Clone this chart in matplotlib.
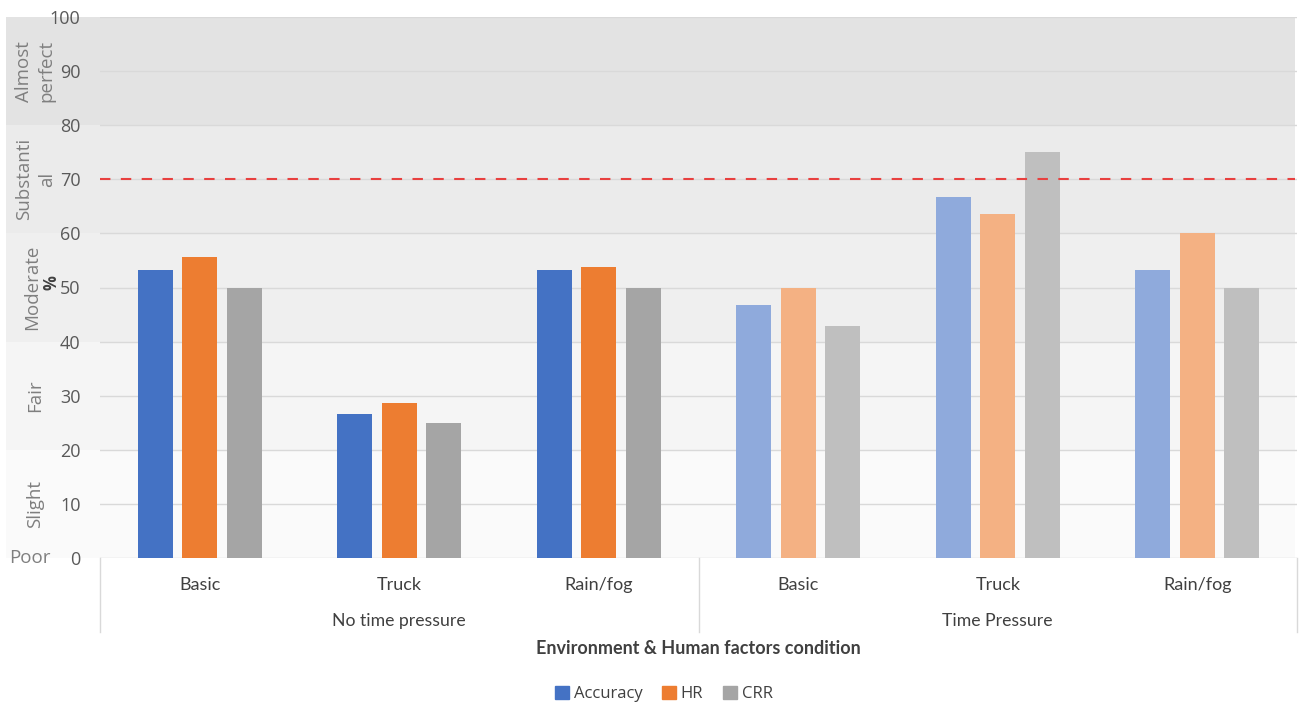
import matplotlib
matplotlib.use("Agg")
import matplotlib.pyplot as plt
import matplotlib.transforms as mtransforms
from matplotlib.patches import Rectangle
from matplotlib.lines import Line2D
import numpy as np

# Data
groups = ["No time pressure", "Time Pressure"]
conditions = ["Basic", "Truck", "Rain/fog"]
series_names = ["Accuracy", "HR", "CRR"]
accuracy = [53.3, 26.7, 53.3, 46.7, 66.7, 53.3]
hr = [55.6, 28.6, 53.8, 50.0, 63.6, 60.0]
crr = [50.0, 25.0, 50.0, 42.9, 75.0, 50.0]
threshold = 70

# Agreement bands: (low, high, label)
band_edges = [(0, 20), (20, 40), (40, 60), (60, 80), (80, 100)]
band_labels = ["Slight", "Fair", "Moderate", "Substanti\nal", "Almost\nperfect"]
band_colors = ["#fafafa", "#f5f5f5", "#efefef", "#ebebeb", "#e3e3e3"]
band_label_x = [-0.054, -0.054, -0.057, -0.054, -0.054]

dark_colors = ["#4472C4", "#ED7D31", "#A5A5A5"]
light_colors = ["#8FAADC", "#F4B183", "#BFBFBF"]

plt.rcParams["font.family"] = ["Open Sans", "DejaVu Sans"]

fig = plt.figure(figsize=(12.99, 7.04), dpi=100)
ax = fig.add_axes([100 / 1299, 1 - 558 / 704, 1197 / 1299, 541 / 704])

n = len(accuracy)
x = np.arange(n)
width = 0.175
offsets = [-0.223, 0.0, 0.223]
values = [accuracy, hr, crr]

# Background bands extending into the left margin
blend = mtransforms.blended_transform_factory(ax.transAxes, ax.transData)
for (lo, hi), col in zip(band_edges, band_colors):
    ax.add_patch(Rectangle((-0.0785, lo), 0.0785 + 0.9985, hi - lo, transform=blend,
                           facecolor=col, edgecolor="none", clip_on=False, zorder=0))

# Gridlines
for yv in range(10, 101, 10):
    ax.axhline(yv, color="#d9d9d9", lw=1.0, zorder=1)

# Bars: first three conditions dark, last three light
for s, (vals, off) in enumerate(zip(values, offsets)):
    cols = [dark_colors[s]] * 3 + [light_colors[s]] * 3
    ax.bar(x + off, vals, width=width, color=cols, zorder=3)

# Threshold line
ax.plot([-0.5, 5.49], [threshold, threshold], color="#e8403f", lw=1.5,
        dashes=(5, 5), zorder=4)

ax.set_xlim(-0.5, 5.5)
ax.set_ylim(0, 100)
ax.set_yticks(range(0, 101, 10))
ax.set_yticklabels([str(v) for v in range(0, 101, 10)], fontsize=13, color="#595959")
ax.tick_params(axis="y", length=0, pad=14)
ax.set_xticks([])
for sp in ax.spines.values():
    sp.set_visible(False)
ax.axhline(0, color="#d9d9d9", lw=1.0, zorder=2)
ax.patch.set_alpha(0)

# Multi-level category axis
xt = mtransforms.blended_transform_factory(ax.transData, ax.transAxes)
for xv in [-0.5, 2.5, 5.5]:
    ax.add_line(Line2D([xv, xv], [0, -0.137], transform=xt, color="#d9d9d9",
                       lw=1.0, clip_on=False))
for i in range(n):
    ax.text(x[i], -0.05, conditions[i % 3], transform=xt, ha="center", va="center",
            fontsize=13, color="#404040", family=["Lato", "DejaVu Sans"])
for g, name in enumerate(groups):
    ax.text(g * 3 + 1, -0.117, name, transform=xt, ha="center", va="center",
            fontsize=12.7, color="#404040", family=["Lato", "DejaVu Sans"])

fig.text(698.5 / 1299, 1 - 648 / 704, "Environment & Human factors condition",
         ha="center", va="center", fontsize=13, fontweight="bold", color="#404040",
         family=["Lato", "DejaVu Sans"])

# Band labels on the left
for (lo, hi), lab, bx in zip(band_edges, band_labels, band_label_x):
    ax.text(bx, (lo + hi) / 2, lab, transform=blend, rotation=90, ha="center",
            va="center", fontsize=13.5, color="#7f7f7f", linespacing=1.35)
ax.text(-0.0585, 0.0, "Poor", transform=blend, ha="center", va="center",
        fontsize=13.5, color="#7f7f7f")
ax.text(-0.0405, 51, "%", transform=blend, rotation=90, ha="center", va="center",
        fontsize=12, color="#404040", fontweight="bold")

# Legend
handles = [Rectangle((0, 0), 1, 1, color=c) for c in dark_colors]
fig.legend(handles, series_names, loc="center", bbox_to_anchor=(664 / 1299, 1 - 694 / 704),
           ncol=3, frameon=False, fontsize=12, handlelength=0.8, handleheight=0.8,
           handletextpad=0.3, columnspacing=1.2, labelcolor="#404040")

fig.savefig("out.png", dpi=100)
